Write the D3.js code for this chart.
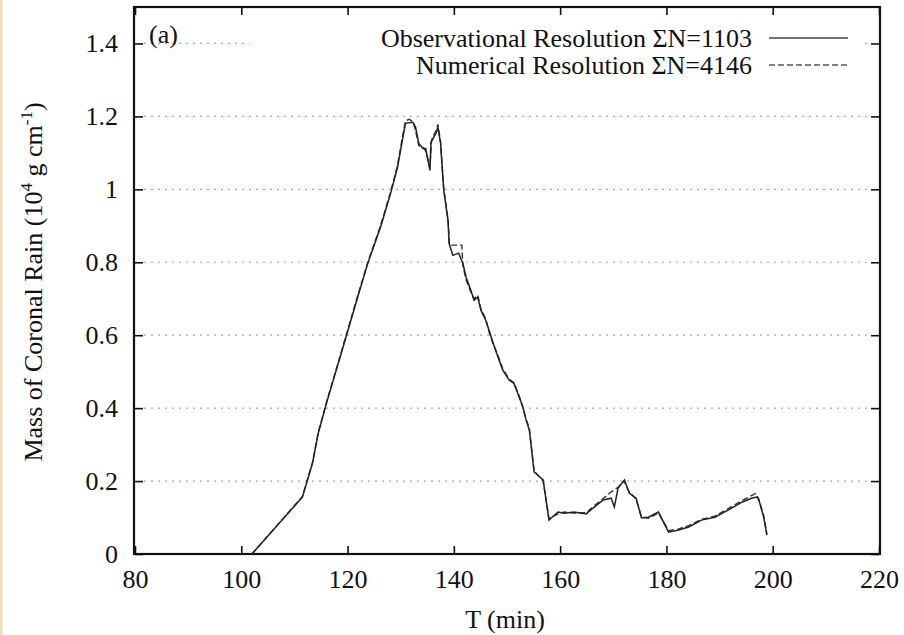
<!DOCTYPE html>
<html>
<head>
<meta charset="utf-8">
<script src="https://cdn.jsdelivr.net/npm/d3@7/dist/d3.min.js"></script>
<style>
  html, body { margin: 0; padding: 0; background: #fff; }
  svg { display: block; }
  text { font-family: "Liberation Serif", "Times New Roman", serif; fill: #111; }
</style>
</head>
<body>
<svg id="chart" width="904" height="635"></svg>
<script>
// ---- data (T in minutes, mass in 10^4 g cm^-1) ----
const obsT = [102.0, 111.5, 113.4, 114.5, 116.2, 118.7, 121.9, 123.8, 126.2, 128.1, 129.4, 130.4, 130.9, 132.3, 132.8, 133.4, 134.2, 134.7, 135.5, 135.7, 136.6, 137.0, 137.5, 138.1, 138.9, 139.1, 139.8, 140.9, 141.7, 142.3, 143.2, 143.8, 144.5, 145.1, 146.0, 146.6, 147.4, 148.3, 149.2, 150.4, 151.3, 152.3, 153.0, 153.6, 154.2, 155.1, 156.8, 157.9, 159.6, 160.8, 162.6, 164.9, 166.2, 168.1, 169.6, 170.2, 170.9, 172.1, 173.0, 174.3, 175.3, 176.6, 178.5, 180.4, 182.3, 184.2, 186.6, 189.1, 191.7, 194.2, 196.0, 197.0, 197.4, 198.3, 198.9];
const obsM = [0.0, 0.156, 0.249, 0.332, 0.422, 0.545, 0.704, 0.797, 0.896, 0.989, 1.060, 1.142, 1.181, 1.184, 1.170, 1.126, 1.112, 1.112, 1.052, 1.129, 1.153, 1.170, 1.126, 0.997, 0.915, 0.852, 0.819, 0.825, 0.797, 0.759, 0.723, 0.696, 0.704, 0.668, 0.641, 0.614, 0.578, 0.540, 0.504, 0.477, 0.468, 0.430, 0.403, 0.367, 0.340, 0.225, 0.203, 0.093, 0.115, 0.112, 0.115, 0.110, 0.126, 0.148, 0.153, 0.129, 0.181, 0.203, 0.167, 0.153, 0.099, 0.101, 0.115, 0.060, 0.066, 0.074, 0.093, 0.101, 0.121, 0.142, 0.153, 0.156, 0.148, 0.101, 0.052];

const numT = [102.0, 111.5, 113.4, 114.5, 116.2, 118.7, 121.9, 123.8, 126.2, 128.1, 129.4, 130.4, 130.9, 131.6, 132.3, 132.8, 133.4, 134.2, 134.7, 135.5, 135.8, 136.6, 137.0, 137.5, 138.1, 138.9, 139.2, 141.5, 141.7, 142.3, 143.2, 143.8, 144.5, 145.1, 146.0, 146.6, 147.4, 148.3, 149.2, 150.4, 151.3, 152.3, 153.0, 153.6, 154.2, 155.1, 156.8, 157.9, 159.6, 160.8, 162.6, 164.9, 166.2, 168.1, 169.4, 170.9, 172.0, 173.0, 174.3, 175.3, 176.6, 178.5, 180.4, 182.3, 184.2, 186.6, 189.1, 191.7, 194.2, 196.0, 196.8, 197.4, 198.3, 198.9];
const numM = [0.0, 0.158, 0.251, 0.335, 0.425, 0.548, 0.708, 0.800, 0.900, 0.993, 1.066, 1.150, 1.188, 1.192, 1.186, 1.160, 1.120, 1.115, 1.105, 1.060, 1.135, 1.160, 1.178, 1.130, 1.000, 0.918, 0.847, 0.847, 0.790, 0.752, 0.718, 0.700, 0.710, 0.672, 0.645, 0.610, 0.575, 0.545, 0.508, 0.480, 0.470, 0.433, 0.400, 0.370, 0.345, 0.228, 0.200, 0.097, 0.110, 0.115, 0.112, 0.113, 0.130, 0.152, 0.168, 0.183, 0.200, 0.170, 0.150, 0.102, 0.098, 0.112, 0.064, 0.069, 0.078, 0.095, 0.104, 0.125, 0.146, 0.160, 0.166, 0.150, 0.105, 0.056];

const xTicks = [80, 100, 120, 140, 160, 180, 200, 220];
const yTicks = [0, 0.2, 0.4, 0.6, 0.8, 1, 1.2, 1.4];
const legendLabels = ["Observational Resolution \u03A3N=1103", "Numerical Resolution \u03A3N=4146"];
const panelLabel = "(a)";

// ---- layout ----
const svg = d3.select("#chart");
const mL = 135, mR = 879, mT = 7, mB = 554;
const FS = "26px";
const x = d3.scaleLinear().domain([80, 220]).range([mL, mR]);
const y = d3.scaleLinear().domain([0, 1.5]).range([mB, mT]);

// beige edge strip
svg.append("rect").attr("x", 0).attr("y", 0).attr("width", 2.5).attr("height", 635).attr("fill", "#eedcc2");

// grid lines (horizontal)
const grid = svg.append("g");
grid.selectAll("line").data(yTicks.filter(d => d > 0)).join("line")
  .attr("x1", mL + 9).attr("x2", mR - 9)
  .attr("y1", d => y(d)).attr("y2", d => y(d))
  .attr("stroke", "#a8a8a8").attr("stroke-width", 1.2)
  .attr("stroke-dasharray", "2,5");

// legend background (hides grid behind key)
svg.append("rect").attr("x", 250).attr("y", 22).attr("width", 612).attr("height", 56).attr("fill", "#fff");

// axes with inward ticks
const fmtY = d => (d === 0 || d === 1) ? String(d) : d3.format(".1f")(d);
const axB = svg.append("g").attr("transform", `translate(0,${mB})`)
  .call(d3.axisBottom(x).tickValues(xTicks).tickSizeInner(-8).tickSizeOuter(0).tickPadding(16));
const axT = svg.append("g").attr("transform", `translate(0,${mT})`)
  .call(d3.axisTop(x).tickValues(xTicks).tickSizeInner(-8).tickSizeOuter(0).tickFormat(""));
const axL = svg.append("g").attr("transform", `translate(${mL},0)`)
  .call(d3.axisLeft(y).tickValues(yTicks).tickSizeInner(-8).tickSizeOuter(0).tickPadding(17).tickFormat(fmtY));
const axR = svg.append("g").attr("transform", `translate(${mR},0)`)
  .call(d3.axisRight(y).tickValues(yTicks).tickSizeInner(-8).tickSizeOuter(0).tickFormat(""));
[axB, axT, axL, axR].forEach(g => {
  g.select(".domain").remove();
  g.selectAll(".tick line").attr("stroke", "#111").attr("stroke-width", 1.6);
  g.selectAll("text").style("font-family", "Liberation Serif, serif").style("font-size", FS).attr("fill", "#111");
});

// frame
svg.append("rect").attr("x", mL - 1).attr("y", mT).attr("width", mR - mL + 2).attr("height", mB - mT)
  .attr("fill", "none").attr("stroke", "#111").attr("stroke-width", 2.2);

// lines
const line = d3.line().x(d => x(d[0])).y(d => y(d[1]));
const obs = obsT.map((t, i) => [t, obsM[i]]);
const num = numT.map((t, i) => [t, numM[i]]);
svg.append("path").datum(num).attr("d", line).attr("fill", "none")
  .attr("stroke", "#333").attr("stroke-width", 1.4).attr("stroke-dasharray", "6,3");
svg.append("path").datum(obs).attr("d", line).attr("fill", "none")
  .attr("stroke", "#222").attr("stroke-width", 1.5);

// legend
const lg = svg.append("g");
legendLabels.forEach((lab, i) => {
  const yy = 38 + i * 27;
  lg.append("text").attr("x", 752).attr("y", yy).attr("dy", "0.33em").attr("text-anchor", "end")
    .style("font-size", FS).text(lab);
  lg.append("line").attr("x1", 769).attr("x2", 848).attr("y1", yy).attr("y2", yy)
    .attr("stroke", i === 0 ? "#444" : "#555").attr("stroke-width", 1.3)
    .attr("stroke-dasharray", i === 0 ? null : "6,3");
});

// panel label
svg.append("text").attr("x", 149).attr("y", 43).style("font-size", FS).text(panelLabel);

// axis titles
svg.append("text").attr("x", 505).attr("y", 628).attr("text-anchor", "middle")
  .style("font-size", FS).text("T (min)");
const yl = svg.append("text").attr("transform", "translate(42,282) rotate(-90)").attr("text-anchor", "middle")
  .style("font-size", FS);
yl.append("tspan").text("Mass of Coronal Rain (10");
yl.append("tspan").attr("dy", -10).style("font-size", "17px").text("4");
yl.append("tspan").attr("dy", 10).text(" g cm");
yl.append("tspan").attr("dy", -10).style("font-size", "17px").text("-1");
yl.append("tspan").attr("dy", 10).text(")");
</script>
</body>
</html>
